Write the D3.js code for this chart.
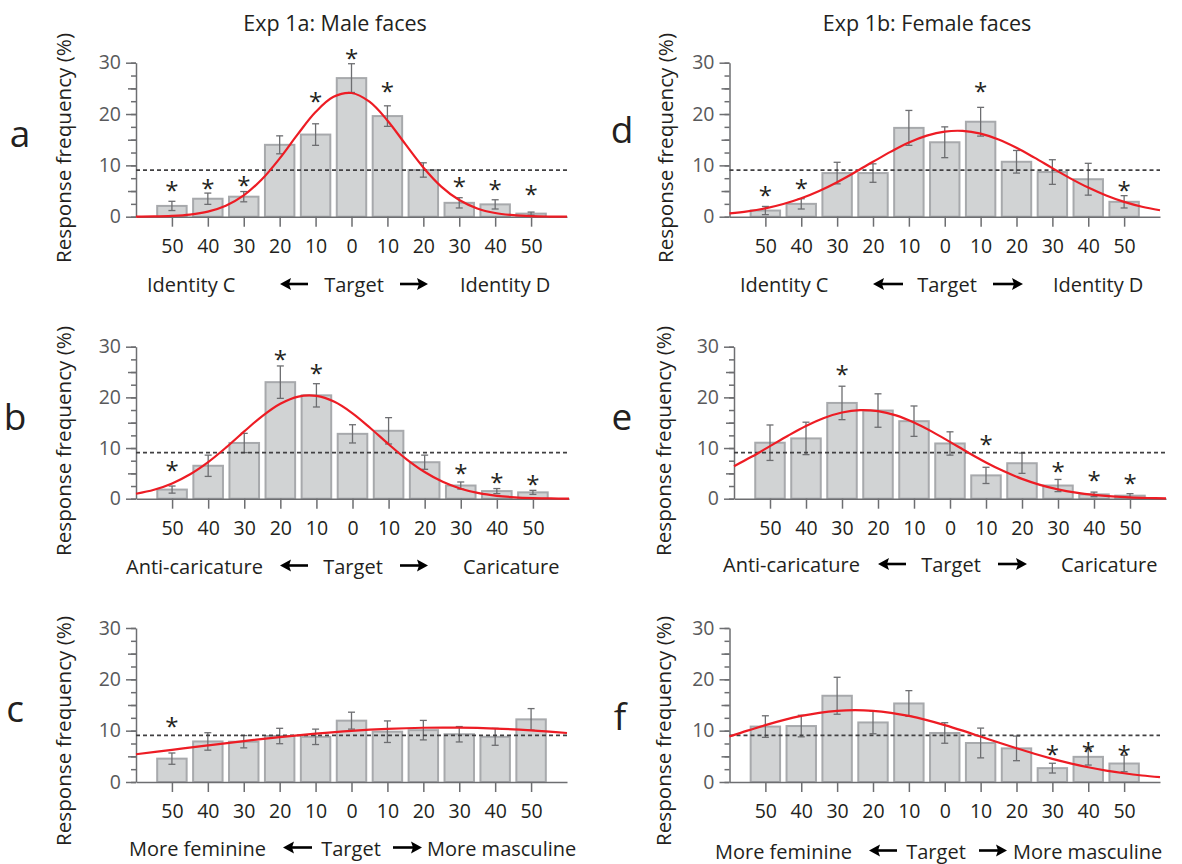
<!DOCTYPE html>
<html><head><meta charset="utf-8">
<script src="https://cdn.jsdelivr.net/npm/d3@7/dist/d3.min.js"></script>
<style>
body{margin:0;background:#fff}
svg{display:block}
text{font-family:"Open Sans",sans-serif}
</style>
</head><body>
<svg id="chart" width="1182" height="864"></svg>
<script>
// ---------- data ----------
const positions = [-5,-4,-3,-2,-1,0,1,2,3,4,5];
const tickLabels = ["50","40","30","20","10","0","10","20","30","40","50"];
const yTickValues = [0,10,20,30];
const chanceLevel = 9.09;

const panelLetters = ["a","b","c","d","e","f"];
const titles = ["Exp 1a: Male faces","Exp 1b: Female faces"];
const yAxisTitle = "Response frequency (%)";
const centerLabel = "Target";
const leftLabels = ["Identity C","Anti-caricature","More feminine","Identity C","Anti-caricature","More feminine"];
const rightLabels = ["Identity D","Caricature","More masculine","Identity D","Caricature","More masculine"];

// bar means, SEM, asterisk heights (null = no asterisk)
const aValues = [2.1,3.5,3.9,14.0,16.0,27.0,19.6,9.1,2.7,2.4,0.6];
const aErrors = [0.9,1.1,1.0,1.75,2.1,2.8,2.0,1.4,1.0,0.9,0.3];
const aStars  = [6.2,6.6,7.1,null,23.5,31.8,25.5,null,6.9,6.3,5.3];

const bValues = [1.8,6.5,11.0,23.0,20.4,12.8,13.4,7.2,2.6,1.5,1.25];
const bErrors = [0.7,2.1,1.9,3.2,2.3,1.8,2.6,1.4,0.7,0.5,0.4];
const bStars  = [6.6,null,null,28.5,25.7,null,null,null,6.0,4.3,3.9];

const cValues = [4.55,7.9,7.85,8.96,8.8,11.95,9.8,10.1,9.3,8.8,12.2];
const cErrors = [1.1,1.7,1.2,1.5,1.5,1.65,2.1,1.9,1.5,1.65,2.1];
const cStars  = [11.9,null,null,null,null,null,null,null,null,null,null];

const dValues = [1.2,2.5,8.5,8.5,17.3,14.5,18.5,10.7,8.7,7.3,2.9];
const dErrors = [0.8,1.0,2.1,1.8,3.4,3.0,2.8,2.2,2.4,3.1,1.2];
const dStars  = [5.2,6.6,null,null,null,null,25.5,null,null,null,6.2];

const eValues = [11.05,11.9,18.9,17.4,15.3,10.9,4.6,7.0,2.6,0.85,0.6];
const eErrors = [3.5,3.2,3.3,3.3,3.0,2.3,1.6,2.0,1.2,0.45,0.4];
const eStars  = [null,null,25.6,null,null,null,11.8,null,6.4,4.6,4.1];

const fValues = [10.8,10.9,16.8,11.6,15.3,9.55,7.6,6.55,2.7,4.9,3.6];
const fErrors = [2.1,2.1,3.6,2.2,2.5,2.0,2.9,2.4,0.95,1.6,1.6];
const fStars  = [null,null,null,null,null,null,null,null,6.4,7.1,6.5];

// fitted curves
const fitX  = [-6,-5.5,-5,-4.5,-4,-3.5,-3,-2.5,-2,-1.5,-1,-0.5,0,0.5,1,1.5,2,2.5,3,3.5,4,4.5,5,5.5,6];
const aFit  = [0.02,0.05,0.16,0.42,1.0,2.15,4.16,7.24,11.35,16.03,20.39,23.35,24.1,22.4,18.75,14.13,9.6,5.87,3.24,1.61,0.72,0.29,0.1,0.03,0.01];
const bFit  = [0.97,1.76,3.01,4.82,7.22,10.12,13.28,16.31,18.74,20.16,20.29,19.12,16.86,13.91,10.75,7.77,5.26,3.33,1.97,1.09,0.57,0.28,0.13,0.05,0.02];
const dFit  = [0.63,1.04,1.63,2.48,3.6,5.02,6.73,8.66,10.69,12.68,14.45,15.79,16.58,16.72,16.18,15.04,13.43,11.5,9.46,7.47,5.67,4.13,2.89,1.94,1.25];
const eFit  = [6.42,8.32,10.38,12.44,14.35,15.94,17.02,17.49,17.28,16.44,15.04,13.24,11.21,9.13,7.16,5.4,3.91,2.73,1.83,1.19,0.74,0.44,0.25,0.14,0.07];
const fFit  = [8.85,10.0,11.08,12.05,12.87,13.48,13.87,14.0,13.87,13.48,12.87,12.05,11.08,10.0,8.85,7.69,6.56,5.49,4.51,3.64,2.88,2.23,1.7,1.27,0.94];
const cFitX = [-6,-5,-4,-3,-2,-1,0,1,2,3,4,5,6];
const cFit  = [5.41,6.27,7.13,7.97,8.75,9.42,9.97,10.36,10.57,10.58,10.41,10.06,9.54];

// ---------- layout ----------
const panels = [
  {values:aValues, errors:aErrors, stars:aStars, fx:fitX,  fy:aFit, x0:136,  x1:567,  y0:216.7, y30:62.7,
   letter:[20,147], ylab:[71,148],  row:285,
   left:147, right:460, target:354, arrL:[280,308], arrR:[400,428]},
  {values:bValues, errors:bErrors, stars:bStars, fx:fitX,  fy:bFit, x0:136,  x1:569,  y0:498.7, y30:346.7,
   letter:[15,430], ylab:[71,441],  row:566.5,
   left:126, right:463, target:353, arrL:[280,308], arrR:[400,428]},
  {values:cValues, errors:cErrors, stars:cStars, fx:cFitX, fy:cFit, x0:136,  x1:567,  y0:782,   y30:628,
   letter:[15,722], ylab:[71,731],  row:848.5,
   left:129, right:427, target:351, arrL:[283,312], arrR:[393,422]},
  {values:dValues, errors:dErrors, stars:dStars, fx:fitX,  fy:dFit, x0:729.5,x1:1160, y0:216.7, y30:62.7,
   letter:[622,143], ylab:[673,148], row:285,
   left:740, right:1053, target:947, arrL:[873,903], arrR:[993,1023]},
  {values:eValues, errors:eErrors, stars:eStars, fx:fitX,  fy:eFit, x0:734,  x1:1166, y0:498.7, y30:346.7,
   letter:[622,430], ylab:[671,441], row:565,
   left:723, right:1061, target:951, arrL:[878,906], arrR:[998,1027]},
  {values:fValues, errors:fErrors, stars:fStars, fx:fitX,  fy:fFit, x0:729.5,x1:1160, y0:782,   y30:628,
   letter:[620,730], ylab:[671,731], row:851.5,
   left:715, right:1013, target:936, arrL:[869,897], arrR:[979,1007]}
];
const titlePos = [[335,31],[927,31]];

// ---------- drawing ----------
const svg = d3.select("#chart");
svg.append("rect").attr("width",1182).attr("height",864).attr("fill","#fff");

titles.forEach((t,i)=>{
  svg.append("text").attr("x",titlePos[i][0]).attr("y",titlePos[i][1])
    .attr("text-anchor","middle").attr("font-size",21.5).attr("fill","#231f20").text(t);
});

function arrow(g, xa, xb, yy, dir){
  // dir -1: head on left, +1: head on right
  const head = 11, hh = 6;
  const tip = dir<0 ? xa : xb;
  const tail = dir<0 ? xb : xa;
  const base = tip - dir*head;
  g.append("line").attr("x1",tail).attr("x2",base+dir*2).attr("y1",yy).attr("y2",yy)
    .attr("stroke","#000").attr("stroke-width",2.6);
  g.append("path").attr("d",`M${tip},${yy}L${base},${yy-hh}L${base+dir*2},${yy}L${base},${yy+hh}Z`).attr("fill","#000");
}

panels.forEach((p,pi)=>{
  const g = svg.append("g");
  const x = d3.scaleLinear().domain([-6,6]).range([p.x0,p.x1]);
  const y = d3.scaleLinear().domain([0,30]).range([p.y0,p.y30]);
  const bw = (x(1)-x(0))*0.82;

  // bars
  g.selectAll("rect.bar").data(p.values).join("rect").attr("class","bar")
    .attr("x",(d,i)=>x(positions[i])-bw/2).attr("y",d=>y(d))
    .attr("width",bw).attr("height",d=>y(0)-y(d))
    .attr("fill","#d1d3d4").attr("stroke","#a7a9ac").attr("stroke-width",2);

  // error bars
  const eg = g.append("g").attr("stroke","#6d6e71").attr("stroke-width",1.3).attr("fill","none");
  p.values.forEach((v,i)=>{
    const cx = x(positions[i]), e = p.errors[i];
    eg.append("line").attr("x1",cx).attr("x2",cx).attr("y1",y(v-e)).attr("y2",y(v+e));
    eg.append("line").attr("x1",cx-3.5).attr("x2",cx+3.5).attr("y1",y(v-e)).attr("y2",y(v-e));
    eg.append("line").attr("x1",cx-3.5).attr("x2",cx+3.5).attr("y1",y(v+e)).attr("y2",y(v+e));
  });

  // y axis: minor, medium, major ticks
  const ax = g.append("g").attr("transform",`translate(${p.x0},0)`);
  ax.append("g").call(d3.axisLeft(y).tickValues(d3.range(0,30.01,2.5)).tickSize(5).tickSizeOuter(0).tickFormat(""))
    .call(s=>s.select(".domain").remove());
  ax.append("g").call(d3.axisLeft(y).tickValues([5,15,25]).tickSize(8).tickSizeOuter(0).tickFormat(""))
    .call(s=>s.select(".domain").remove());
  ax.append("g").call(d3.axisLeft(y).tickValues(yTickValues).tickSize(10).tickSizeOuter(0).tickPadding(5))
    .call(s=>s.selectAll("text").attr("font-size",19.5).attr("fill","#58595b").attr("font-family","Open Sans"));
  ax.selectAll("line,path").attr("stroke","#6d6e71").attr("stroke-width",1.5);

  // x axis
  const bx = g.append("g").attr("transform",`translate(0,${p.y0})`)
    .call(d3.axisBottom(x).tickValues(positions).tickFormat((d,i)=>tickLabels[i]).tickSize(10).tickSizeOuter(0).tickPadding(12));
  bx.selectAll("line,path").attr("stroke","#6d6e71").attr("stroke-width",1.5);
  bx.selectAll("text").attr("font-size",19.5).attr("fill","#231f20").attr("font-family","Open Sans");

  // chance line
  g.append("line").attr("x1",p.x0).attr("x2",p.x1).attr("y1",y(chanceLevel)).attr("y2",y(chanceLevel))
    .attr("stroke","#414042").attr("stroke-width",1.7).attr("stroke-dasharray","4,3");

  // fitted curve
  const line = d3.line().x((d,i)=>x(p.fx[i])).y(d=>y(d)).curve(d3.curveCatmullRom.alpha(0.5));
  g.append("path").attr("d",line(p.fy)).attr("fill","none").attr("stroke","#ed1c24").attr("stroke-width",2.2);

  // asterisks
  p.stars.forEach((s,i)=>{
    if(s==null) return;
    g.append("text").attr("x",x(positions[i])).attr("y",y(s)+14)
      .attr("text-anchor","middle").attr("font-size",24).attr("fill","#231f20").text("*");
  });

  // y axis title
  g.append("text").attr("transform",`translate(${p.ylab[0]},${p.ylab[1]}) rotate(-90)`)
    .attr("text-anchor","middle").attr("font-size",20.5).attr("fill","#231f20")
    .attr("textLength",230).attr("lengthAdjust","spacingAndGlyphs").text(yAxisTitle);

  // panel letter
  g.append("text").attr("x",p.letter[0]).attr("y",p.letter[1]).attr("text-anchor","middle")
    .attr("font-size",37).attr("fill","#231f20").text(panelLetters[pi]);

  // category labels
  const by = p.row + 7;
  g.append("text").attr("x",p.left).attr("y",by).attr("font-size",20).attr("fill","#231f20").text(leftLabels[pi]);
  g.append("text").attr("x",p.right).attr("y",by).attr("font-size",20).attr("fill","#231f20").text(rightLabels[pi]);
  g.append("text").attr("x",p.target).attr("y",by).attr("text-anchor","middle").attr("font-size",20)
    .attr("fill","#231f20").text(centerLabel);
  arrow(g, p.arrL[0], p.arrL[1], p.row-1, -1);
  arrow(g, p.arrR[0], p.arrR[1], p.row-1, 1);
});
</script>
</body></html>
